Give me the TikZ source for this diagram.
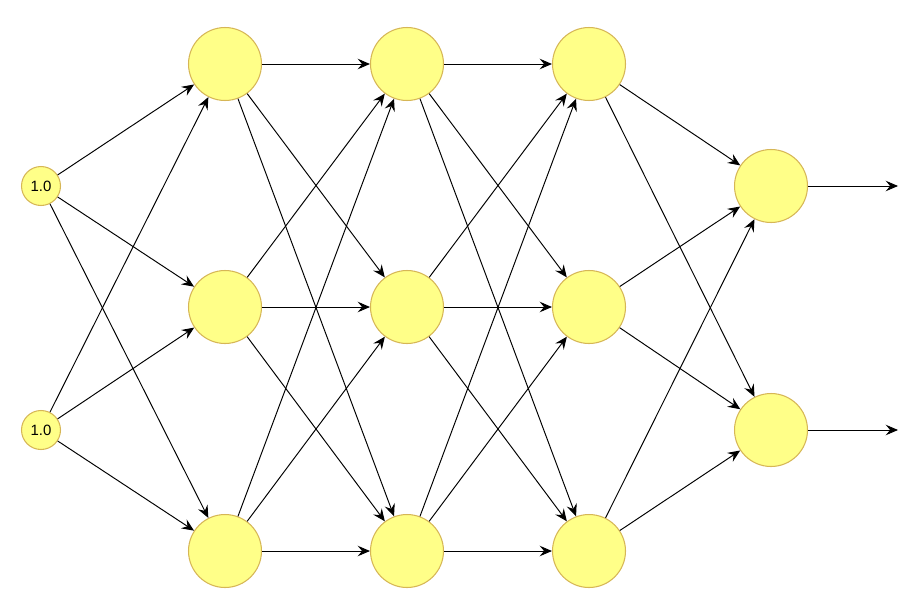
\documentclass[tikz,border=0pt]{standalone}
\usepackage{fontspec}
\setmainfont{Liberation Sans}
\usetikzlibrary{arrows.meta}

\definecolor{nfill}{HTML}{FFFF88}
\definecolor{nline}{HTML}{D6B656}

\begin{document}
\begin{tikzpicture}[
  x=0.02cm, y=-0.02cm,
  neuron/.style={circle, draw=nline, fill=nfill, line width=0.6pt, minimum size=1.46cm, inner sep=0pt},
  bias/.style={neuron, minimum size=0.78cm, font=\fontsize{8.5}{10}\selectfont},
  arrow/.style={-{Stealth[length=7pt, width=6pt, inset=2.5pt]}, line width=0.55pt},
]
  \useasboundingbox (0,0) rectangle (918,612);

  % Input
  \node[bias] (in1) at (41,186) {1.0};
  \node[bias] (in2) at (41,430) {1.0};

  % Hidden layers
  \foreach \l/\x in {1/225, 2/407, 3/589} {
    \node[neuron] (h\l a) at (\x,64) {};
    \node[neuron] (h\l b) at (\x,307) {};
    \node[neuron] (h\l c) at (\x,551) {};
  }

  % Output
  \node[neuron] (out1) at (771,186) {};
  \node[neuron] (out2) at (771,430) {};
  \coordinate (end1) at (898,186);
  \coordinate (end2) at (898,430);

  % Arrows
  \foreach \i in {in1, in2}
    \foreach \j in {a, b, c}
      \draw[arrow] (\i) -- (h1\j);
  \foreach \i in {a, b, c}
    \foreach \j in {a, b, c} {
      \draw[arrow] (h1\i) -- (h2\j);
      \draw[arrow] (h2\i) -- (h3\j);
    }
  \foreach \i in {a, b, c}
    \foreach \j in {1, 2}
      \draw[arrow] (h3\i) -- (out\j);
  \draw[arrow] (out1) -- (end1);
  \draw[arrow] (out2) -- (end2);
\end{tikzpicture}
\end{document}
